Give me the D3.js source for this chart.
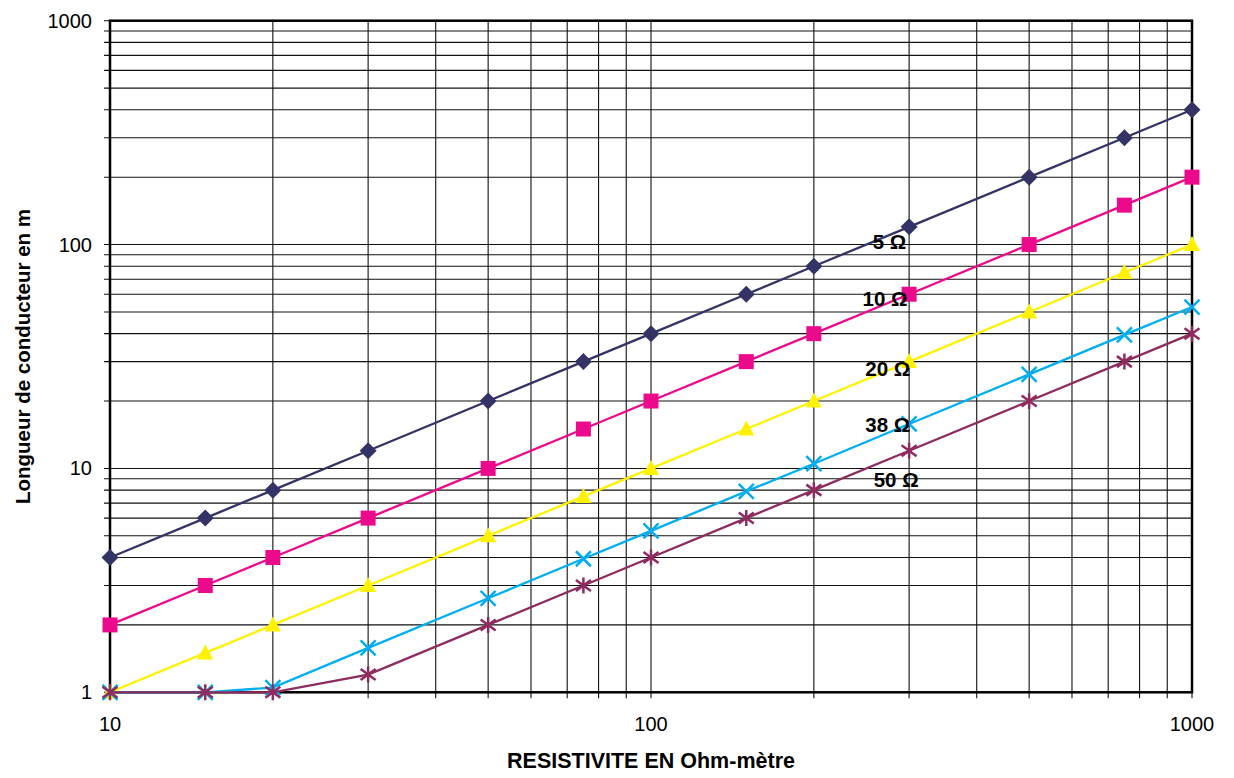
<!DOCTYPE html>
<html lang="fr">
  <head>
    <meta charset="utf-8" />
    <title>Longueur de conducteur / résistivité</title>
    <script src="https://cdnjs.cloudflare.com/ajax/libs/d3/7.8.5/d3.min.js"></script>
    <style type="text/css">
      body { margin: 0; background: #fff; }
      text { font-family: Arial, "Liberation Sans", sans-serif; }
    </style>
  </head>

  <body>
    <div id="chart"></div>
    <script>
      // resistivity (Ohm.m)
      const resistivity = [10, 15, 20, 30, 50, 75, 100, 150, 200, 300, 500, 750, 1000];

      const len5 = [4, 6, 8, 12, 20, 30, 40, 60, 80, 120, 200, 300, 400];
      const len10 = [2, 3, 4, 6, 10, 15, 20, 30, 40, 60, 100, 150, 200];
      const len20 = [1, 1.5, 2, 3, 5, 7.5, 10, 15, 20, 30, 50, 75, 100];
      const len38 = [1, 1, 1.05, 1.58, 2.63, 3.95, 5.26, 7.9, 10.5, 15.8, 26.3, 39.5, 52.6];
      const len50 = [1, 1, 1, 1.2, 2, 3, 4, 6, 8, 12, 20, 30, 40];

      const seriesNames = ['5 Ω', '10 Ω', '20 Ω', '38 Ω', '50 Ω'];
      // where each label sits, in data units (resistivity, length)
      const labelX = [257, 246, 249, 249, 258];
      const labelY = [96, 53, 26, 14.5, 8.3];

      const xTickLabels = [10, 100, 1000];
      const yTickLabels = [1, 10, 100, 1000];

      const width = 1234, height = 778;
      const plotL = 110, plotR = 1192, plotT = 20.7, plotB = 692.3;

      const svg = d3.select('#chart')
        .append('svg')
        .attr('width', width)
        .attr('height', height);

      const x = d3.scaleLog().domain([10, 1000]).range([plotL, plotR]);
      const y = d3.scaleLog().domain([1, 1000]).range([plotB, plotT]);

      const xGrid = x.ticks();   // 10,20..90,100,200..1000
      const yGrid = y.ticks();

      // grid
      svg.append('g')
        .selectAll('line')
        .data(yGrid)
        .join('line')
        .attr('x1', plotL - 6)
        .attr('x2', plotR)
        .attr('y1', d => y(d))
        .attr('y2', d => y(d))
        .attr('stroke', '#111')
        .attr('stroke-width', 1.1);

      svg.append('g')
        .selectAll('line')
        .data(xGrid)
        .join('line')
        .attr('x1', d => x(d))
        .attr('x2', d => x(d))
        .attr('y1', plotT)
        .attr('y2', plotB + 6)
        .attr('stroke', '#111')
        .attr('stroke-width', 1.1);

      // frame
      svg.append('rect')
        .attr('x', plotL)
        .attr('y', plotT)
        .attr('width', plotR - plotL)
        .attr('height', plotB - plotT)
        .attr('fill', 'none')
        .attr('stroke', '#000')
        .attr('stroke-width', 2.5);

      // tick labels
      svg.append('g')
        .selectAll('text')
        .data(yTickLabels)
        .join('text')
        .attr('x', plotL - 18)
        .attr('y', d => y(d) + 7)
        .attr('text-anchor', 'end')
        .attr('font-size', 20)
        .text(d => d);

      svg.append('g')
        .selectAll('text')
        .data(xTickLabels)
        .join('text')
        .attr('x', d => x(d))
        .attr('y', plotB + 39)
        .attr('text-anchor', 'middle')
        .attr('font-size', 20)
        .text(d => d);

      // axis titles
      svg.append('text')
        .attr('x', (plotL + plotR) / 2)
        .attr('y', 768)
        .attr('text-anchor', 'middle')
        .attr('font-size', 21.5)
        .attr('font-weight', 'bold')
        .text('RESISTIVITE EN Ohm-mètre');

      svg.append('text')
        .attr('transform', `translate(30,${(plotT + plotB) / 2}) rotate(-90)`)
        .attr('text-anchor', 'middle')
        .attr('font-size', 20.5)
        .attr('font-weight', 'bold')
        .text('Longueur de conducteur en m');

      const series = [
        { name: seriesNames[0], values: len5, color: '#333366', marker: 'diamond' },
        { name: seriesNames[1], values: len10, color: '#EC0A8C', marker: 'square' },
        { name: seriesNames[2], values: len20, color: '#FFF200', marker: 'triangle' },
        { name: seriesNames[3], values: len38, color: '#00AEEF', marker: 'times' },
        { name: seriesNames[4], values: len50, color: '#8E2C60', marker: 'asterisk' },
      ];

      const line = d3.line()
        .x(d => x(d[0]))
        .y(d => y(d[1]));

      const markerPath = {
        diamond: 'M0,-8.5L8.5,0L0,8.5L-8.5,0Z',
        square: 'M-7.5,-7.5H7.5V7.5H-7.5Z',
        triangle: 'M0,-8.5L8,6.5H-8Z',
        times: 'M-7.5,-7.5L7.5,7.5M-7.5,7.5L7.5,-7.5',
        asterisk: 'M0,-8L0,8M-7.5,-5.5L7.5,5.5M-7.5,5.5L7.5,-5.5',
      };

      series.forEach(s => {
        const pts = resistivity.map((r, i) => [r, s.values[i]]);
        const g = svg.append('g');
        g.append('path')
          .attr('d', line(pts))
          .attr('fill', 'none')
          .attr('stroke', s.color)
          .attr('stroke-width', 2.3);
        const filled = s.marker === 'diamond' || s.marker === 'square' || s.marker === 'triangle';
        g.selectAll('path.m')
          .data(pts)
          .join('path')
          .attr('class', 'm')
          .attr('transform', d => `translate(${x(d[0])},${y(d[1])})`)
          .attr('d', markerPath[s.marker])
          .attr('fill', filled ? s.color : 'none')
          .attr('stroke', s.color)
          .attr('stroke-width', filled ? 0 : 2.5);
      });

      // series labels
      svg.append('g')
        .selectAll('text')
        .data(seriesNames)
        .join('text')
        .attr('x', (d, i) => x(labelX[i]))
        .attr('y', (d, i) => y(labelY[i]))
        .attr('font-size', 20.5)
        .attr('font-weight', 'bold')
        .text(d => d);
    </script>
  </body>
</html>
